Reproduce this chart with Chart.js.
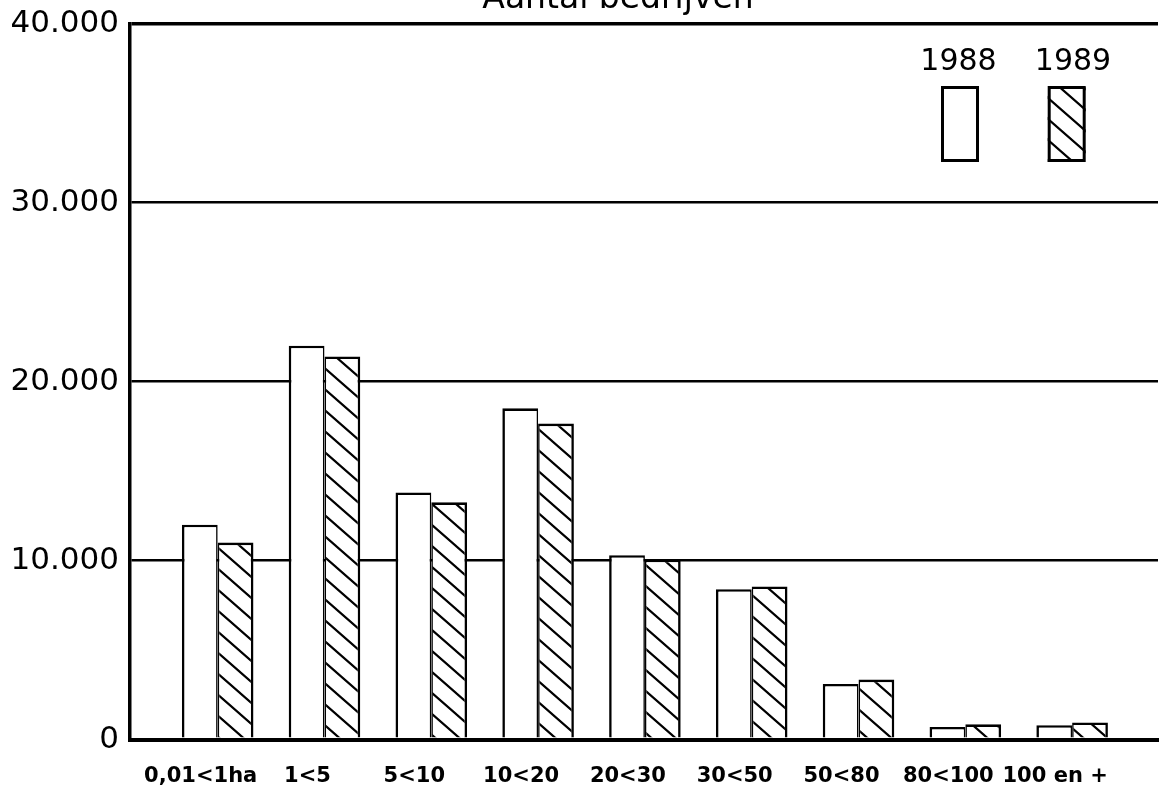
<!DOCTYPE html>
<html>
<head>
<meta charset="utf-8">
<script src="https://cdn.jsdelivr.net/npm/chart.js@4"></script>
<style>
html,body{margin:0;padding:0;background:#fff;overflow:hidden}
#wrap{width:1163px;height:792px;position:relative}
</style>
</head>
<body>
<div id="wrap"><canvas id="c"></canvas></div>
<script>
const chartTitle = 'Aantal bedrijven';
const categories = ['0,01<1ha', '1<5', '5<10', '10<20', '20<30', '30<50', '50<80', '80<100', '100 en +'];
const seriesNames = ['1988', '1989'];
const values1988 = [12000, 22000, 13800, 18500, 10300, 8400, 3100, 700, 800];
const values1989 = [11000, 21400, 13250, 17650, 10050, 8550, 3350, 850, 950];
const yTickValues = [0, 10000, 20000, 30000, 40000];

const FONT = '"DejaVu Sans", sans-serif';

function hatchPattern() {
  const w = 24, h = 21;
  const c = document.createElement('canvas');
  c.width = w; c.height = h;
  const g = c.getContext('2d');
  g.fillStyle = '#fff';
  g.fillRect(0, 0, w, h);
  g.strokeStyle = '#000';
  g.lineWidth = 2.2;
  g.beginPath();
  for (const k of [-1, 0, 1]) {
    g.moveTo(-3, (h / w) * -3 + k * h);
    g.lineTo(w + 3, (h / w) * (w + 3) + k * h);
  }
  g.stroke();
  return g.createPattern(c, 'repeat');
}

function fmtNL(v) {
  return String(v).replace(/\B(?=(\d{3})+(?!\d))/g, '.');
}

const cutTitle = {
  id: 'cutTitle',
  afterDraw(chart) {
    const ctx = chart.ctx;
    ctx.save();
    ctx.font = '33px ' + FONT;
    ctx.fillStyle = '#000';
    ctx.textAlign = 'center';
    ctx.textBaseline = 'alphabetic';
    ctx.fillText(chartTitle, 618, 8);
    ctx.restore();
  }
};

const boxLegend = {
  id: 'boxLegend',
  afterDraw(chart) {
    const ctx = chart.ctx;
    const pos = [{ bx: 960, tx: 958.5 }, { bx: 1066.7, tx: 1073 }];
    chart.data.datasets.forEach((ds, i) => {
      const p = pos[i];
      ctx.save();
      ctx.font = '30px ' + FONT;
      ctx.fillStyle = '#000';
      ctx.textAlign = 'center';
      ctx.textBaseline = 'alphabetic';
      ctx.fillText(ds.label, p.tx, 69.5);
      const w = 38, h = 76, x0 = p.bx - w / 2, y0 = 86;
      ctx.fillStyle = ds.backgroundColor;
      ctx.fillRect(x0, y0, w, h);
      ctx.lineWidth = 3;
      ctx.strokeStyle = '#000';
      ctx.strokeRect(x0 + 1.5, y0 + 1.5, w - 3, h - 3);
      ctx.restore();
    });
  }
};

const hatch = hatchPattern();

new Chart(document.getElementById('c'), {
  type: 'bar',
  data: {
    datasets: [
      {
        label: seriesNames[0],
        data: values1988.map((v, i) => ({ x: i, y: v })),
        backgroundColor: '#ffffff',
        borderColor: '#000000',
        borderWidth: { left: 2.6, top: 2.6, right: 1.6, bottom: 0 },
        borderSkipped: 'start'
      },
      {
        label: seriesNames[1],
        data: values1989.map((v, i) => ({ x: i, y: v })),
        backgroundColor: hatch,
        borderColor: '#000000',
        borderWidth: { left: 1.6, top: 2.6, right: 2.6, bottom: 0 },
        borderSkipped: 'start'
      }
    ]
  },
  options: {
    responsive: true,
    maintainAspectRatio: false,
    animation: false,
    devicePixelRatio: 1,
    categoryPercentage: 0.67,
    barPercentage: 1.0,
    layout: { padding: { left: 0, right: 5, top: 23.5, bottom: 0 } },
    plugins: {
      legend: { display: false },
      title: { display: false },
      tooltip: { enabled: false }
    },
    scales: {
      x: {
        type: 'linear',
        min: -0.821,
        max: 8.804,
        offset: false,
        afterBuildTicks: (scale) => { scale.ticks = categories.map((c, i) => ({ value: i })); },
        afterFit: (scale) => { scale.height = 52.5; },
        grid: { display: false, offset: false, drawTicks: false },
        border: { display: true, color: '#000', width: 4 },
        ticks: {
          stepSize: 1,
          autoSkip: false,
          maxRotation: 0,
          minRotation: 0,
          padding: 24.7,
          labelOffset: -17,
          color: '#000',
          font: { family: FONT, size: 21, weight: 'bold' },
          callback: (v) => (categories[Math.round(v)] !== undefined) ? categories[Math.round(v)] : ''
        }
      },
      y: {
        type: 'linear',
        min: yTickValues[0],
        max: yTickValues[yTickValues.length - 1],
        afterBuildTicks: (scale) => { scale.ticks = yTickValues.map(v => ({ value: v })); },
        afterFit: (scale) => { scale.width = 130; },
        grid: {
          color: '#000',
          drawTicks: false,
          lineWidth: (ctx) => {
            const v = ctx.tick ? ctx.tick.value : 0;
            if (v === 0) return 4;
            if (v === 40000) return 3.5;
            return 2.5;
          }
        },
        border: { display: true, color: '#000', width: 3.5 },
        ticks: {
          padding: 11,
          color: '#000',
          font: { family: FONT, size: 31, lineHeight: 0.8 },
          callback: (v) => fmtNL(v)
        }
      }
    }
  },
  plugins: [cutTitle, boxLegend]
});
</script>
</body>
</html>
